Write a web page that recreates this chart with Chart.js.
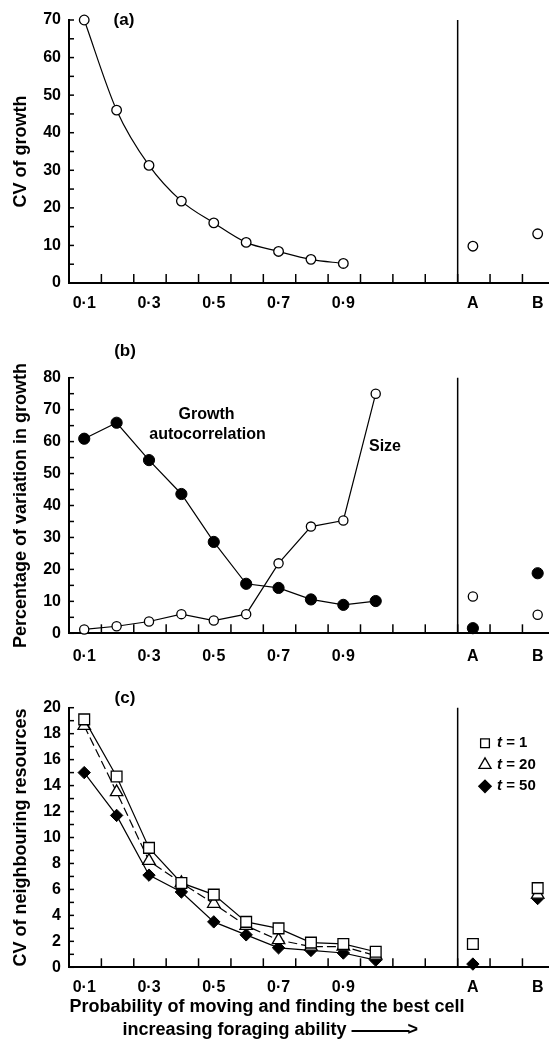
<!DOCTYPE html>
<html><head><meta charset="utf-8">
<script src="https://cdn.jsdelivr.net/npm/chart.js@4.4.1/dist/chart.umd.min.js"></script>
<style>
html,body{margin:0;padding:0;background:#fff;width:549px;height:1042px;overflow:hidden}
canvas{position:absolute;left:0}
</style></head>
<body>
<canvas id="ca" width="549" height="325" style="top:0px"></canvas>
<canvas id="cb" width="549" height="350" style="top:325px"></canvas>
<canvas id="cc" width="549" height="367" style="top:675px"></canvas>
<script>
// ---------- data ----------
const PROB = [0.1, 0.2, 0.3, 0.4, 0.5, 0.6, 0.7, 0.8, 0.9, 1.0];
const SCENARIOS = ['A', 'B'];
const SCENARIO_POS = [1.3, 1.5];
const X_LABEL_POS = [0.1, 0.3, 0.5, 0.7, 0.9, 1.3, 1.5];
const X_LABELS = ['0·1', '0·3', '0·5', '0·7', '0·9', 'A', 'B'];

// (a) CV of growth
const CV_GROWTH = [70, 46, 31.3, 21.8, 16.0, 10.8, 8.4, 6.3, 5.2];
const CV_GROWTH_AB = [9.8, 13.1];

// (b) percentage of variation in growth
const AUTOCORR = [60.9, 65.9, 54.2, 43.6, 28.6, 15.5, 14.2, 10.6, 8.9, 10.1];
const AUTOCORR_AB = [1.6, 18.8];
const SIZE = [1.2, 2.2, 3.7, 6.0, 4.0, 6.0, 21.9, 33.4, 35.3, 75.0];
const SIZE_AB = [11.5, 5.8];

// (c) CV of neighbouring resources
const T1 = [19.1, 14.7, 9.2, 6.5, 5.6, 3.5, 3.0, 1.9, 1.8, 1.2];
const T1_AB = [1.8, 6.1];
const T20 = [18.6, 13.5, 8.2, 6.5, 4.9, 3.2, 2.1, 1.6, 1.6, 0.9];
const T20_AB = [null, 5.6];
const T50 = [15.0, 11.7, 7.1, 5.8, 3.5, 2.5, 1.5, 1.3, 1.1, 0.55];
const T50_AB = [0.25, 5.3];

// ---------- axis layout ----------
const XMIN = 0.053, XMAX = 1.535;
const X_TICK_MARKS = [];
for (let k = 1; k <= 14; k++) X_TICK_MARKS.push(XMIN + 0.1 * k);
const SEPARATOR = XMIN + 1.2;

const FONT = '"Liberation Sans", Arial, Helvetica, sans-serif';
Chart.defaults.font.family = FONT;
Chart.defaults.color = '#000';

function pts(xs, ys) { return ys.map((y, i) => ({x: xs[i], y: y})); }

const deco = {
  id: 'deco',
  beforeDatasetsDraw(chart, args, o) {
    const ctx = chart.ctx, a = chart.chartArea, x = chart.scales.x, y = chart.scales.y;
    ctx.save();
    ctx.strokeStyle = '#000';
    ctx.lineWidth = 1.5;
    X_TICK_MARKS.forEach(v => {
      const px = x.getPixelForValue(v);
      ctx.beginPath(); ctx.moveTo(px, a.bottom); ctx.lineTo(px, a.bottom - 9); ctx.stroke();
    });
    y.ticks.forEach(t => {
      const py = y.getPixelForValue(t.value);
      ctx.beginPath(); ctx.moveTo(a.left, py); ctx.lineTo(a.left + 5, py); ctx.stroke();
    });
    const sx = x.getPixelForValue(SEPARATOR);
    ctx.beginPath(); ctx.moveTo(sx, y.getPixelForValue(y.max)); ctx.lineTo(sx, a.bottom); ctx.stroke();
    ctx.restore();
  },
  afterDraw(chart, args, o) {
    const ctx = chart.ctx;
    ctx.save();
    ctx.fillStyle = '#000';
    ctx.strokeStyle = '#000';
    ctx.textBaseline = 'middle';
    (o.texts || []).forEach(t => {
      ctx.font = 'bold ' + t.size + 'px ' + FONT;
      ctx.textAlign = t.align || 'center';
      ctx.fillText(t.text, t.x, t.y);
      if (t.arrow) {
        const w = ctx.measureText(t.text).width;
        const x0 = (t.align === 'left' ? t.x : t.x - w / 2) + w + 5;
        ctx.lineWidth = 2;
        ctx.beginPath(); ctx.moveTo(x0, t.y + 1); ctx.lineTo(x0 + 58, t.y + 1); ctx.stroke();
        ctx.textAlign = 'left';
        ctx.fillText('>', x0 + 56, t.y);
      }
    });
    if (o.legend) {
      const L = o.legend;
      L.items.forEach((it, i) => {
        const yy = L.y0 + i * L.dy;
        ctx.fillStyle = it.fill; ctx.strokeStyle = '#000'; ctx.lineWidth = 1.3;
        Chart.helpers.drawPoint(ctx, {pointStyle: it.style, radius: it.radius, borderWidth: 1.3, rotation: 0}, L.x, yy);
        ctx.fillStyle = '#000';
        ctx.textAlign = 'left';
        ctx.font = 'italic bold 15px ' + FONT;
        ctx.fillText('t', L.x + 12, yy);
        const w = ctx.measureText('t').width;
        ctx.font = 'bold 15px ' + FONT;
        ctx.fillText(' = ' + it.label, L.x + 12 + w, yy);
      });
    }
    ctx.restore();
  }
};

function options(p) {
  return {
    responsive: false, animation: false, devicePixelRatio: 1,
    layout: {autoPadding: false, padding: {top: p.padTop, left: 0, right: 0, bottom: 0}},
    plugins: {legend: {display: false}, tooltip: {enabled: false}, deco: p.deco},
    scales: {
      x: {
        type: 'linear', min: XMIN, max: XMAX, position: 'bottom',
        grid: {display: false, tickLength: 0},
        border: {display: true, color: '#000', width: 2},
        afterBuildTicks: s => { s.ticks = X_LABEL_POS.map(v => ({value: v})); },
        afterFit: s => { s.height = p.xHeight; s.paddingLeft = 0; s.paddingRight = 0; },
        ticks: {autoSkip: false, maxRotation: 0, minRotation: 0, padding: p.xPad,
          font: {size: 16, weight: 'bold'}, color: '#000',
          callback: (v, i) => X_LABELS[i]}
      },
      y: {
        type: 'linear', min: 0, max: p.yMax, position: 'left',
        grid: {display: false, tickLength: 0},
        border: {display: true, color: '#000', width: 2},
        afterFit: s => { s.width = 69; s.paddingTop = 0; s.paddingBottom = 0; },
        ticks: {stepSize: p.step, autoSkip: false, padding: 8,
          font: {size: 16, weight: 'bold'}, color: '#000',
          callback: v => (Math.round(v / p.step) % p.every === 0 ? String(v) : '')},
        title: {display: true, text: p.yTitle, color: '#000',
          font: {size: 18, weight: 'bold'}, padding: {top: 10, bottom: 0}}
      }
    }
  };
}

const openCircle = {pointStyle: 'circle', pointBackgroundColor: '#fff', pointBorderColor: '#000', pointBorderWidth: 1.3};
const filledCircle = {pointStyle: 'circle', pointBackgroundColor: '#000', pointBorderColor: '#000', pointBorderWidth: 1};

// (a)
new Chart(document.getElementById('ca'), {
  type: 'line',
  data: {datasets: [
    Object.assign({data: pts(PROB, CV_GROWTH), borderColor: '#000', borderWidth: 1.2,
      cubicInterpolationMode: 'monotone', pointRadius: 4.8, clip: false}, openCircle),
    Object.assign({data: pts(SCENARIO_POS, CV_GROWTH_AB), showLine: false, pointRadius: 4.8, clip: false}, openCircle)
  ]},
  options: options({padTop: 20, xHeight: 42, xPad: 11, yMax: 70, step: 5, every: 2,
    yTitle: 'CV of growth',
    deco: {texts: [{text: '(a)', x: 124, y: 20, size: 17}]}}),
  plugins: [deco]
});

// (b)
new Chart(document.getElementById('cb'), {
  type: 'line',
  data: {datasets: [
    Object.assign({data: pts(PROB, SIZE), borderColor: '#000', borderWidth: 1.2, pointRadius: 4.6, clip: false}, openCircle),
    Object.assign({data: pts(PROB, AUTOCORR), borderColor: '#000', borderWidth: 1.2, pointRadius: 5.6, clip: false}, filledCircle),
    Object.assign({data: pts(SCENARIO_POS, SIZE_AB), showLine: false, pointRadius: 4.6, clip: false}, openCircle),
    Object.assign({data: pts(SCENARIO_POS, AUTOCORR_AB), showLine: false, pointRadius: 5.6, clip: false}, filledCircle)
  ]},
  options: options({padTop: 52.7, xHeight: 41.7, xPad: 14, yMax: 80, step: 5, every: 2,
    yTitle: 'Percentage of variation in growth',
    deco: {texts: [
      {text: '(b)', x: 125, y: 26.7, size: 17},
      {text: 'Growth', x: 206.5, y: 90, size: 16},
      {text: 'autocorrelation', x: 207.5, y: 110, size: 16},
      {text: 'Size', x: 385, y: 121.7, size: 16}
    ]}}),
  plugins: [deco]
});

// (c)
const sq = {pointStyle: 'rect', pointRadius: 7.6, pointBackgroundColor: '#fff', pointBorderColor: '#000', pointBorderWidth: 1.3};
const tri = {pointStyle: 'triangle', pointRadius: 7.2, pointBackgroundColor: '#fff', pointBorderColor: '#000', pointBorderWidth: 1.3};
const dia = {pointStyle: 'rectRot', pointRadius: 6.2, pointBackgroundColor: '#000', pointBorderColor: '#000', pointBorderWidth: 1};
new Chart(document.getElementById('cc'), {
  type: 'line',
  data: {datasets: [
    Object.assign({label: 't = 1', data: pts(PROB, T1), borderColor: '#000', borderWidth: 1.2, clip: false}, sq),
    Object.assign({label: 't = 20', data: pts(PROB, T20), borderColor: '#000', borderWidth: 1.2, borderDash: [9, 4], clip: false}, tri),
    Object.assign({label: 't = 50', data: pts(PROB, T50), borderColor: '#000', borderWidth: 1.2, clip: false}, dia),
    Object.assign({data: pts(SCENARIO_POS, T1_AB), showLine: false, clip: false}, sq),
    Object.assign({data: pts(SCENARIO_POS, T20_AB), showLine: false, clip: false}, tri),
    Object.assign({data: pts(SCENARIO_POS, T50_AB), showLine: false, clip: false}, dia)
  ]},
  options: options({padTop: 32.7, xHeight: 74.7, xPad: 11, yMax: 20, step: 1, every: 2,
    yTitle: 'CV of neighbouring resources',
    deco: {
      texts: [
        {text: '(c)', x: 125, y: 23, size: 17},
        {text: 'Probability of moving and finding the best cell', x: 267, y: 332, size: 18},
        {text: 'increasing foraging ability', x: 122.5, y: 355, size: 18, align: 'left', arrow: true}
      ],
      legend: {x: 485, y0: 68.3, dy: 21.5, items: [
        {style: 'rect', radius: 6.2, fill: '#fff', label: '1'},
        {style: 'triangle', radius: 7, fill: '#fff', label: '20'},
        {style: 'rectRot', radius: 6.2, fill: '#000', label: '50'}
      ]}
    }}),
  plugins: [deco]
});
</script>
</body></html>
